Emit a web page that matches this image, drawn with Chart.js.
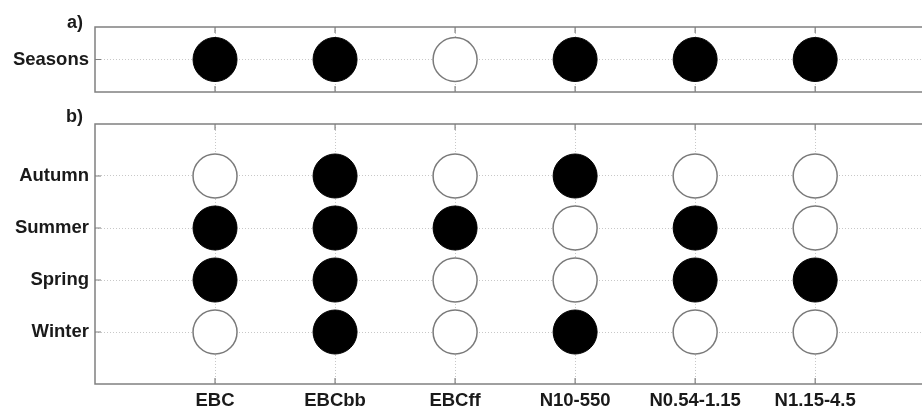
<!DOCTYPE html>
<html>
<head>
<meta charset="utf-8">
<script src="https://cdn.jsdelivr.net/npm/chart.js@4/dist/chart.umd.min.js"></script>
<style>
  html, body { margin: 0; padding: 0; background: #fff; overflow: hidden; }
  #wrap { position: relative; width: 922px; height: 407px; }
  #ca { position: absolute; left: 0; top: 0; }
  #cb { position: absolute; left: 0; top: 100px; }
</style>
</head>
<body>
<div id="wrap">
  <canvas id="ca" width="922" height="100"></canvas>
  <canvas id="cb" width="922" height="307"></canvas>
</div>
<script>
// ---- data ----
const categories = ['EBC', 'EBCbb', 'EBCff', 'N10-550', 'N0.54-1.15', 'N1.15-4.5'];
const panelARows = ['Seasons'];
const seasonsAll = [1, 1, 0, 1, 1, 1];
const panelBRows = ['Winter', 'Spring', 'Summer', 'Autumn']; // bottom to top
const winter = [0, 1, 0, 1, 0, 0];
const spring = [1, 1, 0, 0, 1, 1];
const summer = [1, 1, 1, 0, 1, 0];
const autumn = [0, 1, 0, 1, 0, 0];
const panelTitles = ['a)', 'b)'];

const FONT = "'Liberation Sans', Arial, sans-serif";
const GRID = '#c8c8c8';
const FRAME = '#808080';
const LABEL_SIZE = 18.5;

function buildPoints(rows, flag) {
  const pts = [];
  rows.forEach((vals, r) => {
    vals.forEach((v, i) => { if (v === flag) pts.push({ x: i + 1, y: r + 1 }); });
  });
  return pts;
}

function framePlugin(title, titleDy) {
  return {
    id: 'frame',
    afterDraw(chart) {
      const { ctx, chartArea: a, scales } = chart;
      ctx.save();
      // frame
      ctx.strokeStyle = FRAME;
      ctx.lineWidth = 1.5;
      ctx.strokeRect(a.left, a.top, a.right - a.left + 10, a.bottom - a.top);
      // inward ticks
      ctx.lineWidth = 1.2;
      ctx.beginPath();
      scales.x.ticks.forEach(t => {
        const px = scales.x.getPixelForValue(t.value);
        ctx.moveTo(px, a.top); ctx.lineTo(px, a.top + 6);
        ctx.moveTo(px, a.bottom); ctx.lineTo(px, a.bottom - 6);
      });
      scales.y.ticks.forEach(t => {
        const py = scales.y.getPixelForValue(t.value);
        ctx.moveTo(a.left, py); ctx.lineTo(a.left + 6, py);
      });
      ctx.stroke();
      // panel title
      ctx.fillStyle = '#1a1a1a';
      ctx.font = 'bold 18px ' + FONT;
      ctx.textAlign = 'right';
      ctx.textBaseline = 'alphabetic';
      ctx.fillText(title, 83, a.top + titleDy);
      ctx.restore();
    }
  };
}

function makeChart(canvasId, rowNames, rowValues, yMax, pad, xLabels, xHeight, title, titleDy) {
  const xMax = 6.89;
  return new Chart(document.getElementById(canvasId), {
    type: 'scatter',
    data: {
      datasets: [
        {
          label: 'filled',
          data: buildPoints(rowValues, 1),
          pointRadius: 22, pointHoverRadius: 22,
          backgroundColor: '#000', borderColor: '#000', borderWidth: 1
        },
        {
          label: 'open',
          data: buildPoints(rowValues, 0),
          pointRadius: 22, pointHoverRadius: 22,
          backgroundColor: '#fff', borderColor: '#7a7a7a', borderWidth: 1.5
        }
      ]
    },
    options: {
      responsive: false,
      animation: false,
      events: [],
      layout: { padding: pad, autoPadding: false },
      plugins: { legend: { display: false }, tooltip: { enabled: false } },
      scales: {
        x: {
          type: 'linear', min: 0, max: xMax,
          afterBuildTicks: s => { s.ticks = categories.map((c, i) => ({ value: i + 1 })); },
          afterFit: s => { s.height = xHeight; s.paddingLeft = 0; s.paddingRight = 0; },
          ticks: {
            display: xLabels,
            padding: 6,
            autoSkip: false, maxRotation: 0,
            color: '#1a1a1a',
            font: { family: FONT, size: LABEL_SIZE, weight: 'bold' },
            callback: v => categories[v - 1] || ''
          },
          grid: { color: GRID, lineWidth: 1, drawTicks: false },
          border: { display: false, dash: [1, 2] }
        },
        y: {
          type: 'linear', min: 0, max: yMax,
          afterBuildTicks: s => { s.ticks = rowNames.map((r, i) => ({ value: i + 1 })); },
          afterFit: s => { s.width = 95; s.paddingTop = 0; s.paddingBottom = 0; },
          ticks: {
            padding: 6,
            color: '#1a1a1a',
            font: { family: FONT, size: LABEL_SIZE, weight: 'bold' },
            callback: v => rowNames[v - 1] || ''
          },
          grid: { color: GRID, lineWidth: 1, drawTicks: false },
          border: { display: false, dash: [1, 2] }
        }
      }
    },
    plugins: [framePlugin(title, titleDy)]
  });
}

makeChart('ca', panelARows, [seasonsAll], 2,
  { top: 27, bottom: 8, left: 0, right: 0 }, false, 0, panelTitles[0], 1);
makeChart('cb', panelBRows, [winter, spring, summer, autumn], 5,
  { top: 24, bottom: 0, left: 0, right: 0 }, true, 23, panelTitles[1], -2);
</script>
</body>
</html>
